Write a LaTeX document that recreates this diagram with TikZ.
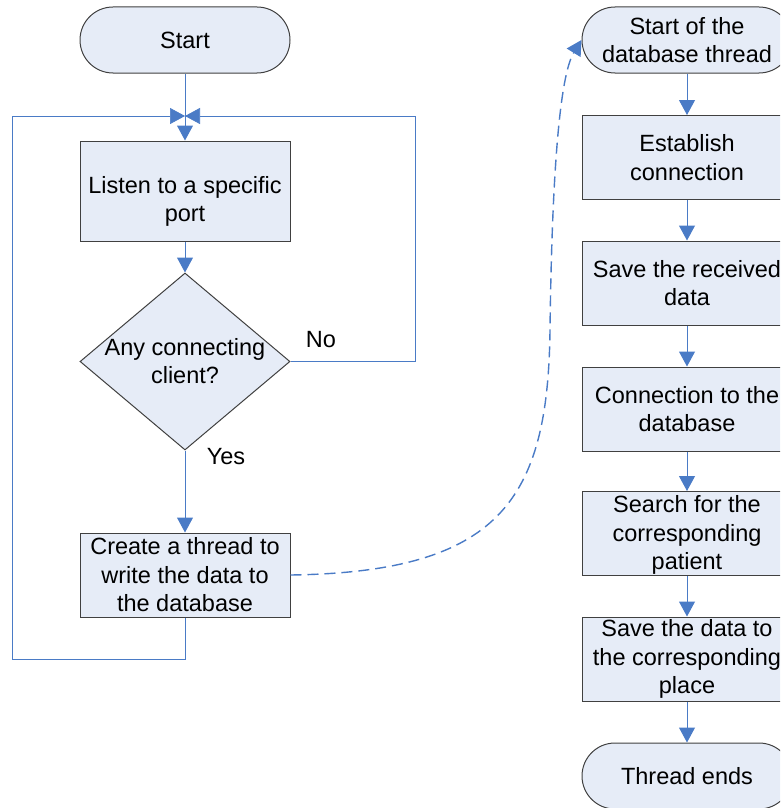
\documentclass[tikz,border=0pt]{standalone}
\usepackage{fontspec}
\setmainfont{Liberation Sans}
\usetikzlibrary{arrows.meta,shapes.geometric}
\definecolor{boxfill}{HTML}{E6ECF7}
\definecolor{boxline}{HTML}{404040}
\definecolor{flow}{HTML}{4A7BC6}
\tikzset{
  txt/.style={align=center,inner sep=0pt,font=\fontsize{23.5}{28.5}\selectfont},
  procbox/.style={txt,draw=boxline,fill=boxfill,line width=1pt,minimum width=210pt,minimum height=84pt},
  termbox/.style={txt,draw=boxline,fill=boxfill,line width=1pt,minimum width=210pt,minimum height=66pt,rounded corners=33pt},
  decbox/.style={diamond,draw=boxline,fill=boxfill,line width=1pt,minimum width=210pt,minimum height=177pt,inner sep=0pt},
  arrow/.style={draw=flow,line width=1pt,-{Triangle[length=15pt,width=16pt]}},
  loopline/.style={draw=flow,line width=0.7pt},
  looparrow/.style={loopline,-{Triangle[length=15pt,width=16pt]}},
  dashlink/.style={draw=flow,line width=1.4pt,dash pattern=on 11pt off 6pt,-{Triangle[length=15pt,width=16pt]}},
  lbl/.style={font=\fontsize{23.5}{28.5}\selectfont,inner sep=0pt}
}
\begin{document}
\begin{tikzpicture}[x=1pt,y=-1pt]
\useasboundingbox (0,0) rectangle (780,808);
\clip (0,0) rectangle (780,808);

% main loop (left column)
\node[termbox] (start) at (185,40) {Start};
\node[procbox,minimum height=100pt] (listen) at (185,191) {};
\node[txt] (listentext) at (185,201.5) {Listen to a specific\\port};
\node[decbox] (q) at (185,361.5) {};
\node[txt] (qtext) at (185,361) {Any connecting\\client?};
\node[procbox] (create) at (185,575) {Create a thread to\\write the data to\\the database};

\coordinate (merge) at (185,116);
\coordinate (nor) at (415,361.5);
\coordinate (nocorner) at (415,116);
\coordinate (backbot) at (185,659);
\coordinate (backleft) at (12,659);
\coordinate (backtop) at (12,116);

\draw[arrow] (start.south) -- (listen.north);
\draw[arrow] (listen.south) -- (q.north);
\draw[arrow] (q.south) -- (create.north);
\draw[loopline] (q.east) -- (nor) -- (nocorner);
\draw[looparrow] (nocorner) -- (merge);
\draw[loopline] (create.south) -- (backbot) -- (backleft) -- (backtop);
\draw[looparrow] (backtop) -- (merge);

\node[lbl] (nolbl) at (321,340) {No};
\node[lbl] (yeslbl) at (226,457) {Yes};

% database thread (right column)
\node[termbox] (dbstart) at (687,40) {Start of the\\database thread};
\node[procbox] (conn) at (687,157.5) {Establish\\connection};
\node[procbox] (save) at (687,283) {Save the received\\data};
\node[procbox] (dbconn) at (687,409) {Connection to the\\database};
\node[procbox] (search) at (687,533.5) {};
\node[txt] (searchtext) at (687,535) {Search for the\\corresponding\\patient};
\node[procbox] (place) at (687,659) {Save the data to\\the corresponding\\place};
\node[termbox] (ends) at (687,776) {Thread ends};

\draw[arrow] (dbstart.south) -- (conn.north);
\draw[arrow] (conn.south) -- (save.north);
\draw[arrow] (save.south) -- (dbconn.north);
\draw[arrow] (dbconn.south) -- (search.north);
\draw[arrow] (search.south) -- (place.north);
\draw[arrow] (place.south) -- (ends.north);

% hand-over to the database thread
\coordinate (mid) at (550,330);
\draw[dashlink] (create.east) .. controls (500,572) and (548,500) .. (mid)
  .. controls (552,170) and (560,75) .. (dbstart.west);
\end{tikzpicture}
\end{document}
